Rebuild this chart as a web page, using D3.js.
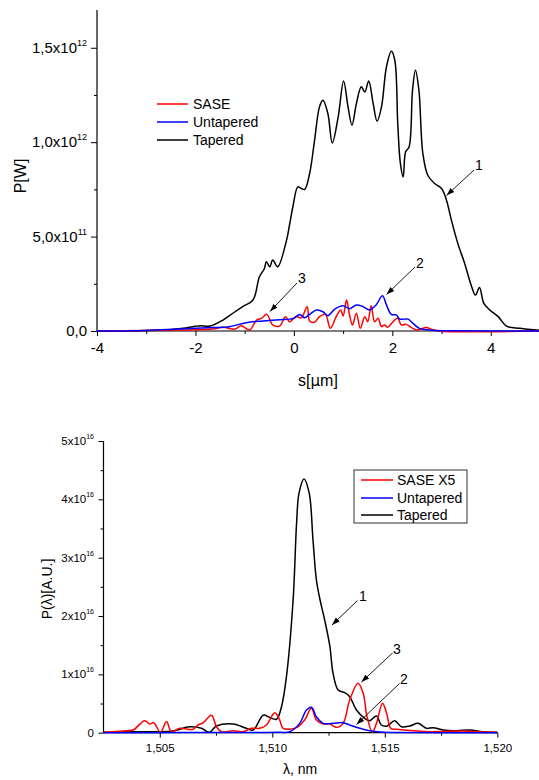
<!DOCTYPE html>
<html><head><meta charset="utf-8">
<script src="https://cdn.jsdelivr.net/npm/d3@7"></script>
<style>body{margin:0;background:#fff}svg{display:block;font-family:"Liberation Sans",Arial,sans-serif}</style>
</head><body><svg id="c" width="539" height="780"></svg>
<script>
// ---------- Top chart data (s in µm, P in 1e12 W) ----------
const topTaperedS = [-4.0,-3.5,-3.0,-2.5,-2.2,-2.0,-1.9,-1.7,-1.44,-1.24,-1.04,-0.83,-0.70,-0.60,-0.56,-0.49,-0.43,-0.33,-0.15,-0.09,-0.02,0.08,0.15,0.22,0.32,0.42,0.52,0.59,0.69,0.78,0.90,1.01,1.10,1.18,1.27,1.37,1.44,1.52,1.61,1.69,1.78,1.88,1.98,2.05,2.11,2.16,2.22,2.27,2.34,2.41,2.47,2.54,2.62,2.72,2.86,3.0,3.10,3.20,3.33,3.47,3.59,3.69,3.77,3.86,3.98,4.15,4.32,4.59,4.93,5.0];
const topTaperedP = [0.0,0.001,0.003,0.008,0.016,0.025,0.028,0.026,0.058,0.094,0.129,0.164,0.287,0.33,0.367,0.34,0.376,0.34,0.48,0.56,0.658,0.763,0.755,0.75,0.834,1.01,1.187,1.222,1.152,0.996,1.134,1.324,1.187,1.09,1.205,1.293,1.266,1.324,1.205,1.111,1.187,1.398,1.481,1.434,1.099,0.896,0.816,0.949,0.975,1.275,1.381,1.275,0.94,0.825,0.781,0.755,0.693,0.587,0.464,0.358,0.252,0.19,0.231,0.146,0.111,0.076,0.026,0.014,0.005,0.004];
const topUntaperedS = [-4,-3,-2.32,-1.65,-1.31,-0.97,-0.63,-0.29,-0.01,0.12,0.22,0.32,0.46,0.59,0.69,0.83,1.0,1.13,1.27,1.40,1.54,1.67,1.80,1.88,1.98,2.08,2.15,2.32,2.42,2.55,2.83,3.2,5];
const topUntaperedP = [0,0.003,0.011,0.018,0.023,0.044,0.053,0.06,0.067,0.088,0.07,0.088,0.111,0.102,0.081,0.116,0.134,0.118,0.138,0.13,0.111,0.138,0.187,0.138,0.088,0.085,0.063,0.063,0.04,0.014,0.004,0.001,0];
const topSaseS = [-4,-3,-2.32,-1.65,-1.44,-1.2,-1.07,-0.9,-0.76,-0.66,-0.55,-0.43,-0.29,-0.17,-0.09,0.05,0.15,0.27,0.32,0.42,0.52,0.64,0.74,0.86,0.95,1.0,1.07,1.13,1.19,1.27,1.35,1.44,1.50,1.57,1.64,1.71,1.78,1.84,1.91,1.98,2.11,2.18,2.28,2.39,2.49,2.69,2.79,2.95,5];
const topSaseP = [0,0.002,0.005,0.01,0.02,0.01,0.028,0.005,0.058,0.067,0.088,0.032,0.026,0.076,0.049,0.076,0.07,0.129,0.053,0.046,0.076,0.088,0.014,0.076,0.111,0.08,0.164,0.085,0.032,0.094,0.014,0.076,0.049,0.134,0.049,0.067,0.023,0.032,0.02,0.04,0.067,0.032,0.035,0.018,0.005,0.018,0.01,0.0,0];
const topXTicks = [-4,-2,0,2,4];
const topYTicks = [0,0.5,1.0,1.5];
const topYTickLabels = [["0,0",""],["5,0x10","11"],["1,0x10","12"],["1,5x10","12"]];
const topLegend = ["SASE","Untapered","Tapered"];

// ---------- Bottom chart data (λ in nm, P in 1e16 A.U.) ----------
const botTaperedL = [1.5025,1.50381,1.50485,1.50559,1.50633,1.50685,1.5072,1.50752,1.50826,1.50885,1.50915,1.5096,1.50989,1.51019,1.51041,1.51063,1.51093,1.51108,1.51119,1.51141,1.51164,1.51181,1.51196,1.51211,1.51233,1.51256,1.5127,1.51293,1.51322,1.51344,1.51374,1.51411,1.51433,1.51463,1.51485,1.5151,1.51544,1.51574,1.51611,1.51648,1.51685,1.51715,1.51759,1.51819,1.51878,1.51937,1.5200];
const botTaperedP = [0.007,0.017,0.017,0.03,0.10,0.075,0.007,0.115,0.15,0.075,0.046,0.30,0.26,0.23,0.446,0.96,2.3,3.59,4.11,4.35,4.11,3.3,2.62,2.3,1.93,1.48,1.02,0.73,0.686,0.617,0.39,0.247,0.206,0.286,0.132,0.115,0.206,0.103,0.115,0.16,0.075,0.086,0.046,0.034,0.046,0.017,0.007];
const botSaseL = [1.5025,1.50337,1.50381,1.50433,1.50456,1.50473,1.50503,1.5053,1.50552,1.50589,1.50648,1.5067,1.50693,1.5073,1.50752,1.50774,1.50826,1.5087,1.50907,1.50944,1.50974,1.51011,1.5103,1.51048,1.51078,1.51107,1.51144,1.51174,1.51196,1.51226,1.51256,1.51285,1.51315,1.51344,1.51381,1.51404,1.51421,1.51445,1.51463,1.5149,1.51508,1.51527,1.51552,1.51626,1.517,1.51848,1.5192,1.52];
const botSaseP = [0.007,0.03,0.046,0.206,0.15,0.172,0.007,0.19,0.017,0.075,0.058,0.132,0.17,0.30,0.10,0.017,0.034,0.017,0.075,0.075,0.132,0.343,0.247,0.075,0.06,0.086,0.218,0.418,0.218,0.15,0.15,0.092,0.16,0.56,0.847,0.676,0.274,0.007,0.16,0.504,0.333,0.075,0.058,0.034,0.017,0.03,0.017,0.005];
const botUntaperedL = [1.5025,1.506,1.509,1.51033,1.51078,1.51122,1.51152,1.51174,1.51196,1.51226,1.5127,1.51315,1.51344,1.51389,1.51433,1.5148,1.5155,1.52];
const botUntaperedP = [0,0.002,0.004,0.006,0.017,0.16,0.39,0.436,0.274,0.16,0.16,0.172,0.132,0.075,0.034,0.01,0.004,0];
const botXTicks = [1.505,1.510,1.515,1.520];
const botXTickLabels = ["1,505","1,510","1,515","1,520"];
const botYTicks = [0,1,2,3,4,5];
const botLegend = ["SASE X5","Untapered","Tapered"];

const colors = {sase:"#ff0000", unt:"#0000ff", tap:"#000000"};
const svg = d3.select("#c");
const defs = svg.append("defs");
defs.append("marker").attr("id","ah").attr("viewBox","0 0 10 10").attr("refX",10).attr("refY",5)
  .attr("markerWidth",8).attr("markerHeight",8).attr("markerUnits","userSpaceOnUse").attr("orient","auto")
  .append("path").attr("d","M0,1.5 L10,5 L0,8.5 Z").attr("fill","#000");

function arrow(x1,y1,x2,y2,label,tx,ty,fs){
  svg.append("line").attr("x1",x1).attr("y1",y1).attr("x2",x2).attr("y2",y2)
    .attr("stroke","#000").attr("stroke-width",0.9).attr("marker-end","url(#ah)");
  svg.append("text").attr("x",tx).attr("y",ty).attr("font-size",fs).attr("text-anchor","middle").text(label);
}
function series(g,xs,ys,x,y,color){
  const pts = xs.map((d,i)=>[d,ys[i]]);
  g.append("path").datum(pts).attr("fill","none").attr("stroke",color).attr("stroke-width",1.5)
   .attr("d",d3.line().x(d=>x(d[0])).y(d=>y(d[1])).curve(d3.curveCatmullRom.alpha(0.5)));
}

// ================= TOP CHART =================
{
  const x = d3.scaleLinear().domain([-4,5]).range([97,540]);
  const y = d3.scaleLinear().domain([0,1.7]).range([331,10]);
  const g = svg.append("g");
  // x axis
  const xa = g.append("g").attr("transform","translate(0,331)")
    .call(d3.axisBottom(x).tickValues(topXTicks).tickSize(5).tickPadding(3).tickFormat(d=>d));
  xa.select(".domain").attr("stroke-width",1.2).attr("d","M97,0H540");
  xa.selectAll("text").attr("font-size",15).attr("font-family","Liberation Sans, Arial, sans-serif").attr("dy","0.95em");
  g.append("g").attr("transform","translate(0,331)").call(d3.axisBottom(x).tickValues([-3,-1,1,3]).tickSize(3).tickFormat(""))
    .select(".domain").remove();
  // y axis
  const ya = g.append("g").attr("transform","translate(97,0)")
    .call(d3.axisLeft(y).tickValues(topYTicks).tickSize(6).tickFormat(""));
  ya.select(".domain").attr("stroke-width",1.2).attr("d","M0,10V331");
  g.append("g").attr("transform","translate(97,0)").call(d3.axisLeft(y).tickValues([0.25,0.75,1.25]).tickSize(3).tickFormat(""))
    .select(".domain").remove();
  topYTicks.forEach((v,i)=>{
    const [m,e] = topYTickLabels[i];
    const t = g.append("text").attr("x",87).attr("y",y(v)+5).attr("text-anchor","end").attr("font-size",15);
    t.append("tspan").text(m);
    if(e) t.append("tspan").attr("dy",-7).attr("font-size",9).text(e);
  });
  g.append("text").attr("transform","translate(26,176) rotate(-90)").attr("text-anchor","middle").attr("font-size",16).text("P[W]");
  const xl = g.append("text").attr("x",318).attr("y",386).attr("text-anchor","middle").attr("font-size",16);
  xl.append("tspan").text("s[");
  xl.append("tspan").attr("font-family","DejaVu Sans, sans-serif").attr("font-size",15).text("μ");
  xl.append("tspan").text("m]");
  // curves
  series(g,topTaperedS,topTaperedP,x,y,colors.tap);
  series(g,topSaseS,topSaseP,x,y,colors.sase);
  series(g,topUntaperedS,topUntaperedP,x,y,colors.unt);
  // legend
  const lc = [colors.sase,colors.unt,colors.tap], ly=[104,122,140];
  topLegend.forEach((t,i)=>{
    g.append("line").attr("x1",157).attr("x2",188).attr("y1",ly[i]).attr("y2",ly[i]).attr("stroke",lc[i]).attr("stroke-width",1.5);
    g.append("text").attr("x",193).attr("y",ly[i]+5).attr("font-size",14).text(t);
  });
  arrow(474,170,446.5,195.5,"1",479,170,14);
  arrow(415,267,386.5,294.5,"2",420,268,14);
  arrow(297,283,270,311.5,"3",302,283,14);
}

// ================= BOTTOM CHART =================
{
  const x = d3.scaleLinear().domain([1.5025,1.520]).range([103.5,497.3]);
  const y = d3.scaleLinear().domain([0,5]).range([732.7,441]);
  const g = svg.append("g");
  const xa = g.append("g").attr("transform","translate(0,732.7)")
    .call(d3.axisBottom(x).tickValues(botXTicks).tickSize(5).tickPadding(4).tickFormat((d,i)=>botXTickLabels[i]));
  xa.select(".domain").attr("stroke-width",1.2).attr("d","M103.5,0H497.3");
  xa.selectAll("text").attr("font-size",11.5).attr("font-family","Liberation Sans, Arial, sans-serif").attr("dy","0.9em");
  g.append("g").attr("transform","translate(0,732.7)").call(d3.axisBottom(x).tickValues([1.5075,1.5125,1.5175]).tickSize(3).tickFormat(""))
    .select(".domain").remove();
  const ya = g.append("g").attr("transform","translate(103.5,0)")
    .call(d3.axisLeft(y).tickValues(botYTicks).tickSize(5).tickFormat(""));
  ya.select(".domain").attr("stroke-width",1.2).attr("d","M0,441V732.7");
  g.append("g").attr("transform","translate(103.5,0)").call(d3.axisLeft(y).tickValues([0.5,1.5,2.5,3.5,4.5]).tickSize(3).tickFormat(""))
    .select(".domain").remove();
  botYTicks.forEach(v=>{
    const t = g.append("text").attr("x",94).attr("y",y(v)+4).attr("text-anchor","end").attr("font-size",11.5);
    if(v===0){ t.text("0"); }
    else { t.append("tspan").text(v+"x10"); t.append("tspan").attr("dy",-6).attr("font-size",7).text("16"); }
  });
  g.append("text").attr("transform","translate(52,589) rotate(-90)").attr("text-anchor","middle").attr("font-size",14).text("P(λ)[A.U.]");
  g.append("text").attr("x",300).attr("y",774).attr("text-anchor","middle").attr("font-size",14).text("λ, nm");
  series(g,botTaperedL,botTaperedP,x,y,colors.tap);
  series(g,botSaseL,botSaseP,x,y,colors.sase);
  series(g,botUntaperedL,botUntaperedP,x,y,colors.unt);
  // legend
  g.append("rect").attr("x",354).attr("y",470).attr("width",113).attr("height",53).attr("fill","#fff").attr("stroke","#333").attr("stroke-width",1);
  const lc = [colors.sase,colors.unt,colors.tap], ly=[480,498,515];
  botLegend.forEach((t,i)=>{
    g.append("line").attr("x1",361).attr("x2",393).attr("y1",ly[i]).attr("y2",ly[i]).attr("stroke",lc[i]).attr("stroke-width",1.5);
    g.append("text").attr("x",397).attr("y",ly[i]+5).attr("font-size",14).text(t);
  });
  arrow(357.5,600.5,332,625,"1",363,601,14);
  arrow(392.5,653,361.5,682,"3",397,654,14);
  arrow(399.5,683.5,356.5,724.5,"2",404,684,14);
}
</script></body></html>
